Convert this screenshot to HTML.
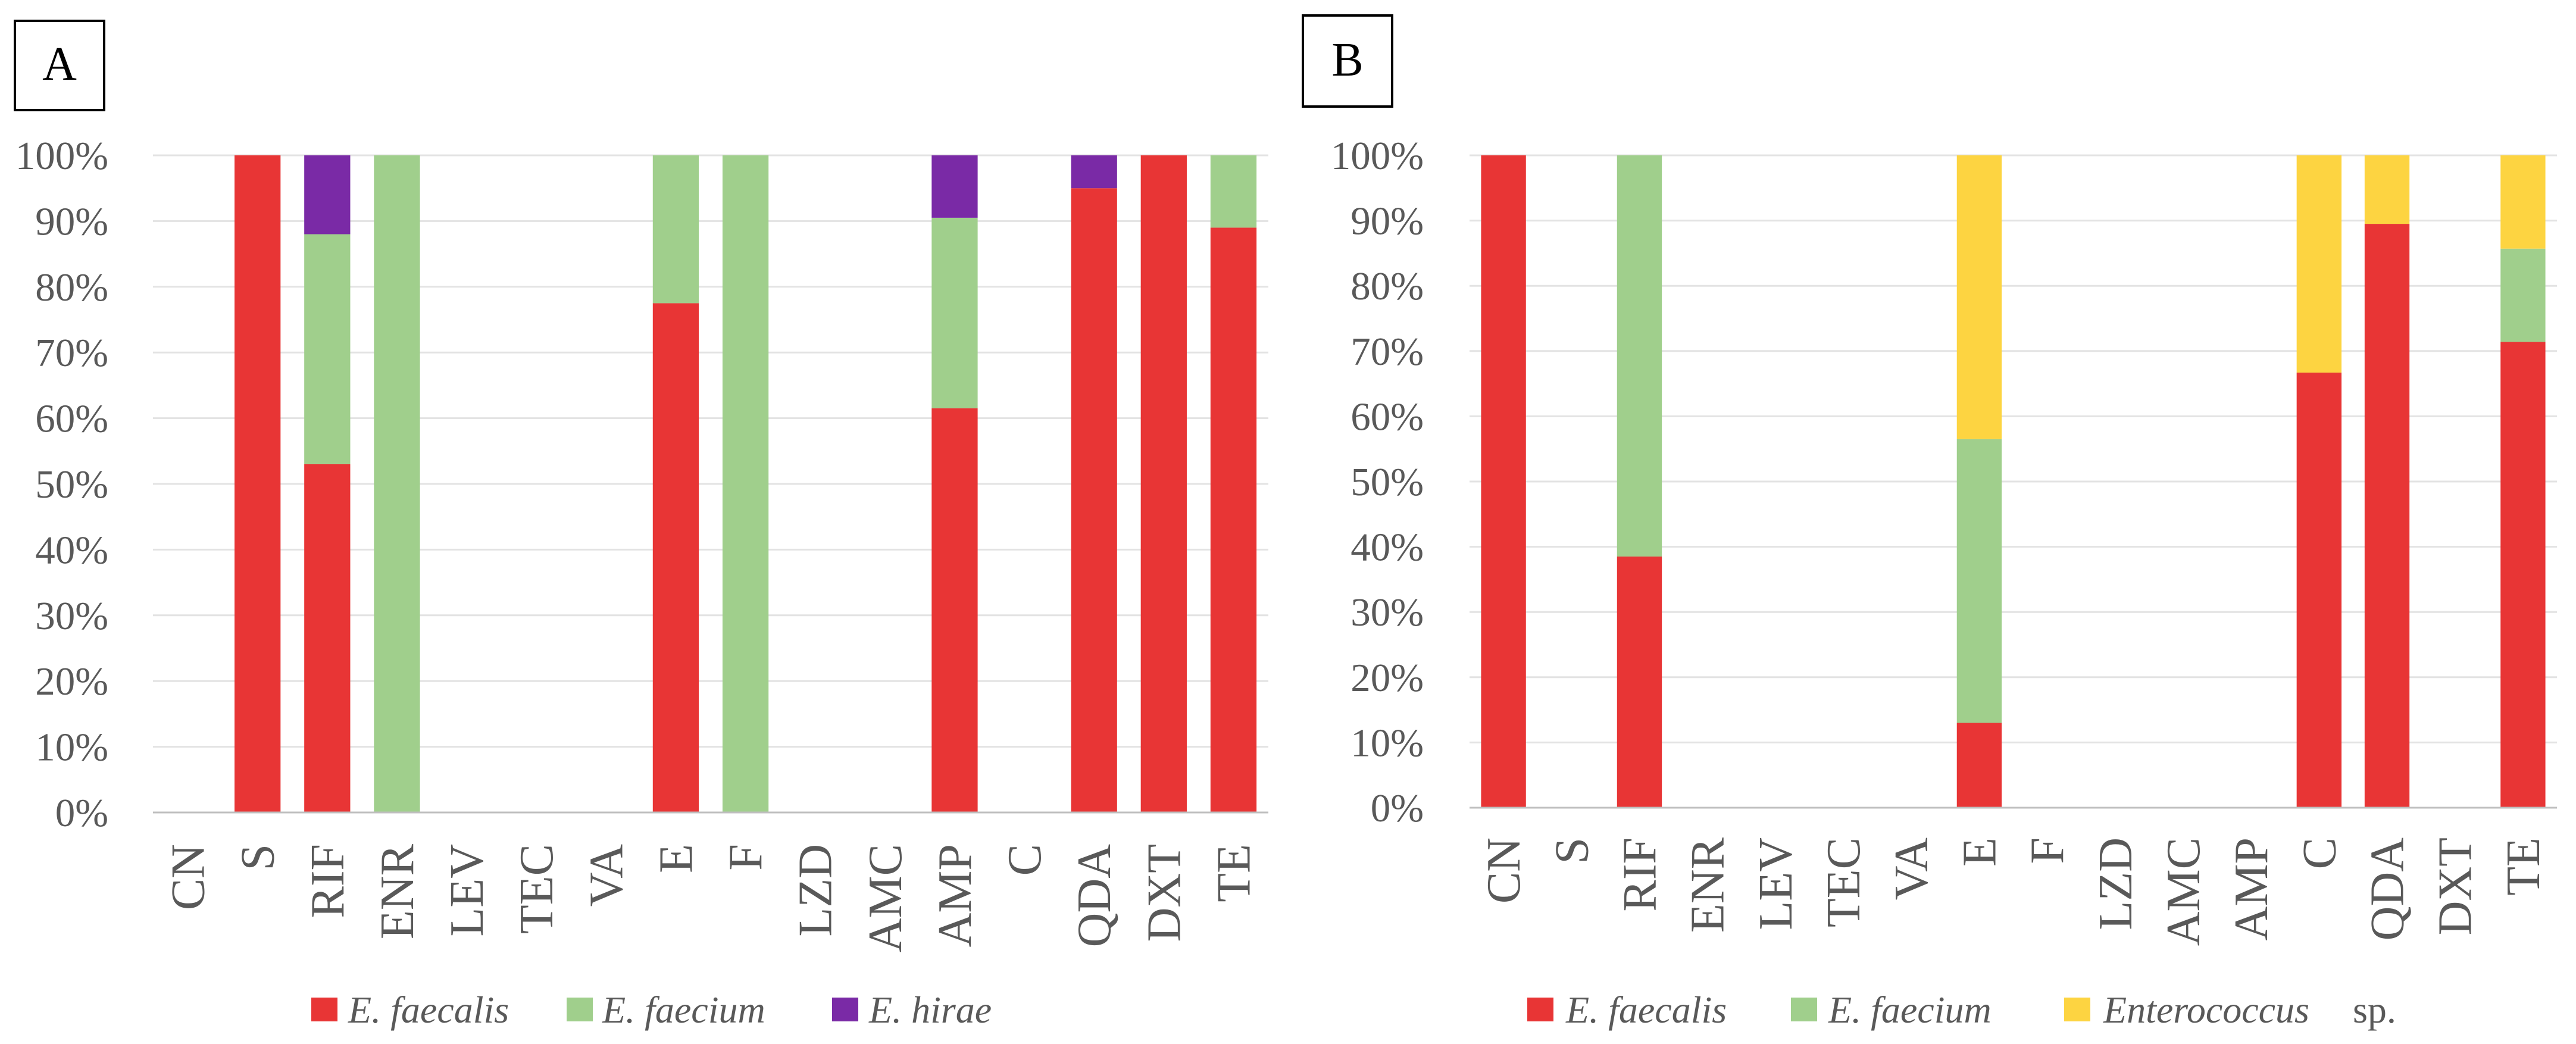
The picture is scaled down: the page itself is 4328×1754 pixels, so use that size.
<!DOCTYPE html>
<html><head><meta charset="utf-8"><style>
html,body{margin:0;padding:0;background:#fff}
svg{display:block}
text{font-family:"Liberation Serif",serif;fill:#595959}
</style></head><body>
<svg id="chart" width="4328" height="1754" viewBox="0 0 4328 1754" xmlns="http://www.w3.org/2000/svg">
<g><rect x="25" y="35" width="150" height="150" fill="#fff" stroke="#000" stroke-width="4"/><text x="100" y="134" text-anchor="middle" font-size="80" style="fill:#000">A</text></g>
<g><rect x="2189" y="26" width="150" height="153" fill="#fff" stroke="#000" stroke-width="4"/><text x="2264" y="127" text-anchor="middle" font-size="80" style="fill:#000">B</text></g>
</svg>
<script>
const categories = ["CN","S","RIF","ENR","LEV","TEC","VA","E","F","LZD","AMC","AMP","C","QDA","DXT","TE"];
const ticks = ["0%","10%","20%","30%","40%","50%","60%","70%","80%","90%","100%"];
const tickValues = [0,10,20,30,40,50,60,70,80,90,100];
const aFaecalis = [0,100,53,0,0,0,0,77.5,0,0,0,61.5,0,95,100,89];
const aFaecium  = [0,0,35,100,0,0,0,22.5,100,0,0,29,0,0,0,11];
const aHirae    = [0,0,12,0,0,0,0,0,0,0,0,9.5,0,5,0,0];
const bFaecalis = [100,0,38.5,0,0,0,0,13,0,0,0,0,66.7,89.5,0,71.4];
const bFaecium  = [0,0,61.5,0,0,0,0,43.5,0,0,0,0,0,0,0,14.3];
const bSp       = [0,0,0,0,0,0,0,43.5,0,0,0,0,33.3,10.5,0,14.3];
const aSeriesNames = ["E. faecalis","E. faecium","E. hirae"];
const bSeriesNames = ["E. faecalis","E. faecium","Enterococcus"];

const NS="http://www.w3.org/2000/svg";
const svg=document.getElementById('chart');
function mk(tag,attrs,parent){const e=document.createElementNS(NS,tag);for(const k in attrs)e.setAttribute(k,attrs[k]);(parent||svg).appendChild(e);return e;}

function panel(id,x0,x1,y100,y0,tickRight,labelTop,series,colors,keys,legend){
  const g=mk('g',{});
  
  
  const yS=v=>y0+(y100-y0)*v/100;
  const bw=(x1-x0)/categories.length;
  const xC=i=>x0+bw*(i+0.5);
  tickValues.forEach((v,i)=>{
    if(v>0){const l=mk('line',{x1:x0,x2:x1,y1:yS(v),y2:yS(v),stroke:'#e3e3e3','stroke-width':3},g);
    
    }
    const t=mk('text',{x:tickRight,y:yS(v)+23,'text-anchor':'end','font-size':67},g);
    t.textContent=ticks[i];
    
    
  });
  categories.forEach((c,i)=>{
    let base=0;
    series.forEach((s,k)=>{
      const v=s[i]; if(v<=0)return;
      const r=mk('rect',{x:xC(i)-bw*0.33,width:bw*0.66,y:yS(base+v),height:yS(base)-yS(base+v),fill:colors[k]},g);
      
      
      base+=v;
    });
    const t=mk('text',{x:0,y:0,'text-anchor':'end','font-size':80,transform:`translate(${xC(i)+27},${labelTop}) rotate(-90)`},g);
    t.textContent=c;
    
    
  });
  const ax=mk('line',{x1:x0,x2:x1,y1:y0,y2:y0,stroke:'#bfbfbf','stroke-width':3},g);
  
  
  legend.forEach((L,k)=>{
    const lg=mk('g',{},g);
    
    
    mk('rect',{x:L.sx,y:1676,width:44,height:40,fill:colors[k]},lg);
    const t=mk('text',{x:L.tx,y:1718,'font-size':64,'font-style':'italic'},lg);
    t.textContent=L.name;
    if(L.sp){const s=mk('tspan',{'font-style':'normal',x:L.sp},t);s.textContent='sp.';}
  });
}
panel('panel-a',257,2131,261,1365,182,1418,[aFaecalis,aFaecium,aHirae],['#e83535','#a0cf8c','#7a2aa6'],['faecalis','faecium','hirae'],
  [{sx:523,tx:585,name:aSeriesNames[0]},{sx:952,tx:1012,name:aSeriesNames[1]},{sx:1398,tx:1460,name:aSeriesNames[2]}]);
panel('panel-b',2469,4296,261,1357,2392,1407,[bFaecalis,bFaecium,bSp],['#e83535','#a0cf8c','#fdd441'],['faecalis','faecium','sp'],
  [{sx:2566,tx:2631,name:bSeriesNames[0]},{sx:3009,tx:3072,name:bSeriesNames[1]},{sx:3468,tx:3534,name:bSeriesNames[2],sp:3953}]);
</script>
</body></html>
